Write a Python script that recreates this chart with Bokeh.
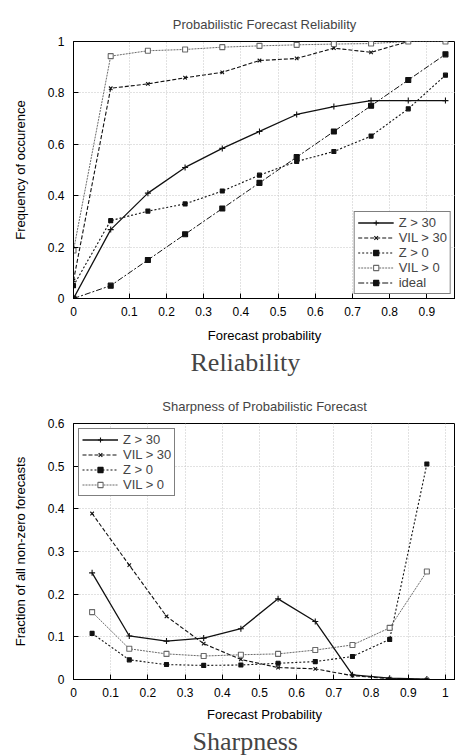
from bokeh.plotting import figure
from bokeh.layouts import column
from bokeh.models import FixedTicker, Range1d, Title
from bokeh.embed import file_html
from bokeh.resources import INLINE

# ---------------- data: reliability ----------------
rel_x = [-0.05, 0.05, 0.15, 0.25, 0.35, 0.45, 0.55, 0.65, 0.75, 0.85, 0.95]
rel_z30 = [0.0, 0.268, 0.41, 0.51, 0.584, 0.65, 0.716, 0.747, 0.77, 0.77, 0.77]
rel_vil30 = [0.07, 0.818, 0.835, 0.859, 0.88, 0.926, 0.934, 0.974, 0.958, 1.0, 1.0]
rel_z0 = [0.05, 0.303, 0.34, 0.368, 0.418, 0.48, 0.533, 0.572, 0.632, 0.738, 0.869]
rel_vil0 = [0.187, 0.943, 0.964, 0.969, 0.978, 0.983, 0.987, 0.99, 0.992, 1.0, 1.0]
rel_ideal = [0.0, 0.05, 0.15, 0.25, 0.35, 0.45, 0.55, 0.65, 0.75, 0.85, 0.95]
rel_xticks = [-0.05, 0.1, 0.2, 0.3, 0.4, 0.5, 0.6, 0.7, 0.8, 0.9]
rel_xtick_labels = ["0", "0.1", "0.2", "0.3", "0.4", "0.5", "0.6", "0.7", "0.8", "0.9"]
rel_yticks = [0.0, 0.2, 0.4, 0.6, 0.8, 1.0]
rel_ytick_labels = ["0", "0.2", "0.4", "0.6", "0.8", "1"]

# ---------------- data: sharpness ----------------
shp_x = [0.05, 0.15, 0.25, 0.35, 0.45, 0.55, 0.65, 0.75, 0.85, 0.95]
shp_z30 = [0.25, 0.102, 0.09, 0.097, 0.119, 0.189, 0.136, 0.011, 0.003, 0.001]
shp_vil30 = [0.389, 0.268, 0.148, 0.084, 0.047, 0.028, 0.025, 0.009, 0.002, 0.0]
shp_z0 = [0.108, 0.046, 0.035, 0.033, 0.034, 0.038, 0.042, 0.054, 0.094, 0.505]
shp_vil0 = [0.158, 0.072, 0.06, 0.055, 0.058, 0.06, 0.069, 0.081, 0.121, 0.253]
shp_xticks = [0.0, 0.1, 0.2, 0.3, 0.4, 0.5, 0.6, 0.7, 0.8, 0.9, 1.0]
shp_xtick_labels = ["0", "0.1", "0.2", "0.3", "0.4", "0.5", "0.6", "0.7", "0.8", "0.9", "1"]
shp_yticks = [0.0, 0.1, 0.2, 0.3, 0.4, 0.5, 0.6]
shp_ytick_labels = ["0", "0.1", "0.2", "0.3", "0.4", "0.5", "0.6"]

labels = ["Z > 30", "VIL > 30", "Z > 0", "VIL > 0", "ideal"]

STYLES = {
    "Z > 30": dict(color="#111111", dash="solid", lw=1.3, marker="cross", msize=6, fill="#111111"),
    "VIL > 30": dict(color="#111111", dash="4 2", lw=1.1, marker="x", msize=5, fill="#111111"),
    "Z > 0": dict(color="#111111", dash="2 2", lw=1.1, marker="square", msize=4, fill="#111111"),
    "VIL > 0": dict(color="#6a6a6a", dash="2 1", lw=1.0, marker="square", msize=5, fill="white"),
    "ideal": dict(color="#111111", dash="6 2 2 2", lw=1.0, marker="square", msize=5, fill="#111111"),
}

SANS = "Liberation Sans"
SERIF = "Liberation Serif"


def make_fig(title, xr, yr, xticks, xlabels, yticks, ylabels, xlabel, ylabel,
             caption, cap_offset, top_border, bottom_border, height, xlabel_standoff):
    p = figure(width=455, height=height, output_backend="svg", toolbar_location=None,
               x_range=Range1d(*xr), y_range=Range1d(*yr),
               min_border_left=73, min_border_right=0, min_border_top=top_border,
               min_border_bottom=bottom_border)
    p.title.text = title
    p.title.text_font = SANS
    p.title.text_font_size = "13px"
    p.title.text_font_style = "normal"
    p.title.align = "center"
    p.title.standoff = 20
    p.outline_line_color = "black"
    p.outline_line_width = 1
    p.background_fill_color = "white"
    p.border_fill_color = "white"

    p.xaxis.ticker = FixedTicker(ticks=xticks)
    p.xaxis.major_label_overrides = dict(zip(xticks, xlabels))
    p.yaxis.ticker = FixedTicker(ticks=yticks)
    p.yaxis.major_label_overrides = dict(zip(yticks, ylabels))
    for ax in (p.xaxis[0], p.yaxis[0]):
        ax.major_tick_in = 5
        ax.major_tick_out = 0
        ax.minor_tick_line_color = None
        ax.axis_line_color = "black"
        ax.major_tick_line_color = "black"
        ax.major_label_text_font = SANS
        ax.major_label_text_font_size = "12px"
        ax.major_label_text_color = "black"
        ax.axis_label_text_font = SANS
        ax.axis_label_text_font_size = "13px"
        ax.axis_label_text_font_style = "normal"
        ax.axis_label_text_color = "black"
    p.xaxis.axis_label = xlabel
    p.yaxis.axis_label = ylabel
    p.xaxis.major_label_standoff = 8
    p.xaxis.axis_label_standoff = xlabel_standoff
    p.yaxis.major_label_standoff = 9
    p.yaxis.axis_label_standoff = 17

    p.xgrid.ticker = FixedTicker(ticks=[t for t in xticks if t > 0])
    p.ygrid.ticker = FixedTicker(ticks=[t for t in yticks if t > 0])
    for g in (p.xgrid[0], p.ygrid[0]):
        g.grid_line_color = "#c4c4c4"
        g.grid_line_dash = "1 2"
        g.grid_line_width = 1

    cap = Title(text=caption, align="left", text_font=SERIF, text_font_size="26px",
                text_font_style="normal", offset=cap_offset, standoff=0)
    p.add_layout(cap, "below")
    return p


def add_series(p, x, y, name):
    s = STYLES[name]
    p.line(x, y, line_color=s["color"], line_dash=s["dash"], line_width=s["lw"], legend_label=name)
    p.scatter(x, y, marker=s["marker"], size=s["msize"], line_color=s["color"],
              fill_color=s["fill"], line_width=1.1, legend_label=name)


def style_legend(p, loc, margin):
    lg = p.legend[0]
    lg.location = loc
    lg.margin = margin
    lg.border_line_color = "black"
    lg.border_line_width = 1
    lg.background_fill_alpha = 1
    lg.label_text_font = SANS
    lg.label_text_font_size = "13px"
    lg.label_height = 13
    lg.glyph_height = 13
    lg.glyph_width = 36
    lg.spacing = 0
    lg.padding = 3
    lg.label_standoff = 5


# ---------------- reliability figure ----------------
p1 = make_fig("Probabilistic Forecast Reliability", (-0.05, 0.977), (0, 1),
              rel_xticks, rel_xtick_labels, rel_yticks, rel_ytick_labels,
              "Forecast probability", "Frequency of occurence", "Reliability", 117, 41, 80, 378, 9)
for name, ys in zip(labels, [rel_z30, rel_vil30, rel_z0, rel_vil0, rel_ideal]):
    add_series(p1, rel_x, ys, name)
style_legend(p1, "bottom_right", 4)

# ---------------- sharpness figure ----------------
p2 = make_fig("Sharpness of Probabilistic Forecast", (0, 1.027), (0, 0.6),
              shp_xticks, shp_xtick_labels, shp_yticks, shp_ytick_labels,
              "Forecast Probability", "Fraction of all non-zero forecasts", "Sharpness", 119, 45, 77, 378, 7)
for name, ys in zip(labels[:4], [shp_z30, shp_vil30, shp_z0, shp_vil0]):
    add_series(p2, shp_x, ys, name)
style_legend(p2, "top_left", 5)

layout = column(p1, p2, spacing=0)
open("out.html", "w").write(file_html(layout, INLINE))
